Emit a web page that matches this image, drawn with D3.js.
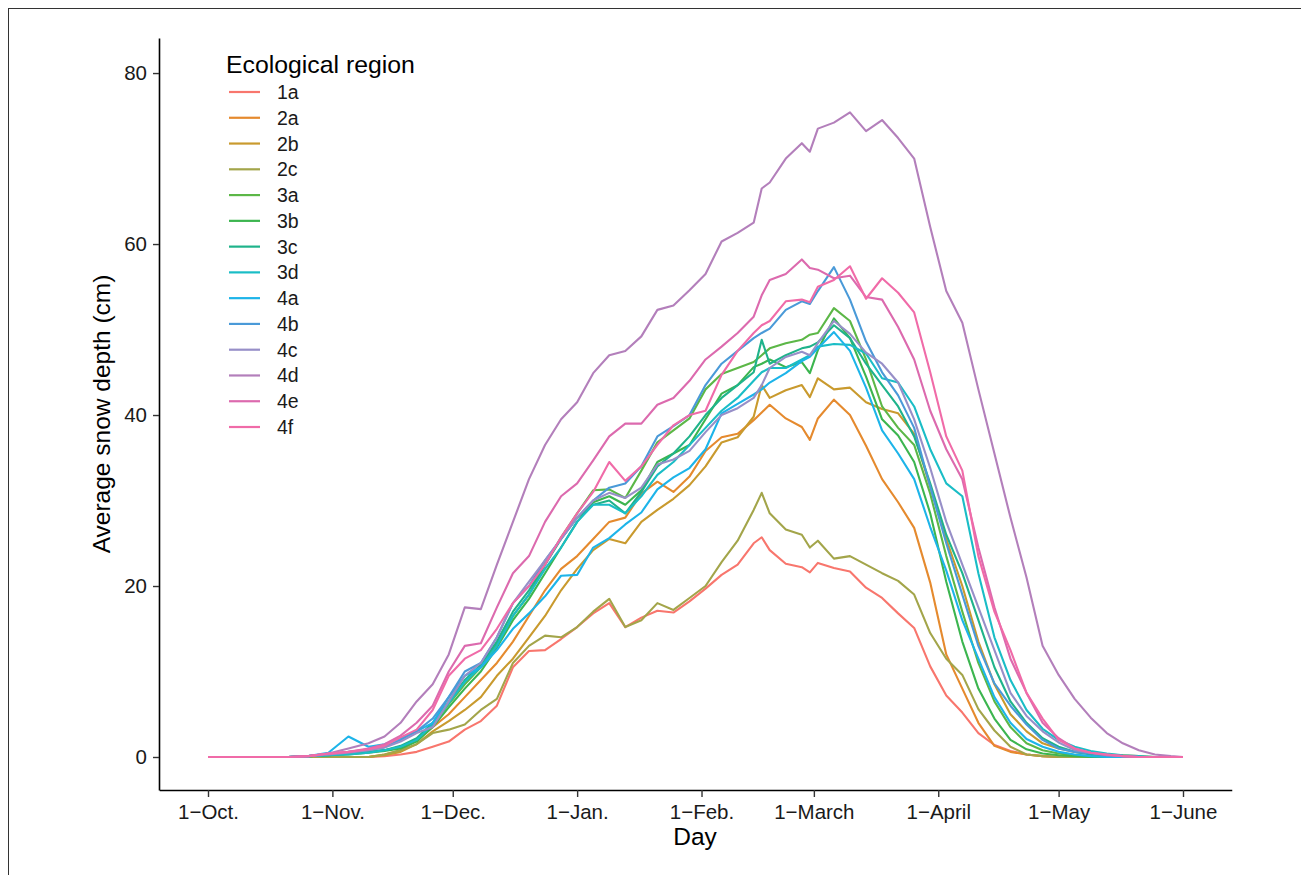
<!DOCTYPE html>
<html><head><meta charset="utf-8">
<script src="https://cdn.jsdelivr.net/npm/d3@7"></script>
<style>
body{margin:0;background:#fff}
svg{display:block}
text{font-family:"Liberation Sans",Arial,Helvetica,sans-serif}
</style>
</head><body><svg id="c" width="1301" height="875"></svg>
<script>
// ---- data (days since 1 October) ----
const days = [0,10,20,25,30,35,40,44,48,52, 56,60,64,68,72,76,80,84,88,92, 96,100,104,108,112,116,120,124,128,132, 136,138,140,144,148,150,152,156,160,164, 168,172,176,180,184,188,192,196,200,204, 208,212,216,220,224,228,232,236,240,243];

const regions = ["1a","2a","2b","2c","3a","3b","3c","3d","4a","4b","4c","4d","4e","4f"];
const colors = ["#F8766D","#E58A2E","#C99A2E","#A3A54A","#5CB747","#3CB54F","#1FB38B","#1ABDC6","#1DB4E9","#4A9AD8","#978FC8","#B37FBB","#DC6AAE","#F06BA8"];

const d1a = [0,0,0,0,0,0,0,0.1,0.3,0.6, 1.2,1.8,3.2,4.2,6,10.5,12.4,12.5,13.8,15.2, 16.8,18,15.2,16.3,17.1,16.9,18.2,19.7,21.3,22.5, 25,25.7,24.2,22.6,22.2,21.6,22.7,22.1,21.7,19.8, 18.6,16.8,15.1,10.6,7.2,5.2,2.8,1.4,0.7,0.3, 0.1,0,0,0,0,0,0,0,0,0];
const d2a = [0,0,0,0,0,0,0,0.3,0.8,2, 3.5,5,7,9,11,13.5,16.5,19.5,22,23.5, 25.5,27.5,28,30.8,32.2,31,32.8,35.8,37.4,37.8, 39.4,40.3,41.2,39.6,38.6,37.1,39.6,41.8,40,36.4, 32.5,29.8,26.8,20.4,12,8,4,1.3,0.6,0.3, 0.1,0,0,0,0,0,0,0,0,0];
const d2b = [0,0,0,0,0,0,0,0.2,0.6,1.5, 3,4.2,5.5,7,9.5,11.5,14,16.5,19.5,22, 24.2,25.5,25,27.5,28.9,30.2,31.8,34,36.8,37.4, 39.8,43.5,42,42.9,43.5,42.1,44.3,43,43.2,41.5, 40.7,40.2,37.8,31.6,25.5,20,13.5,8.5,5,3, 1.6,1,0.6,0.4,0.3,0.2,0.1,0,0,0];
const d2c = [0,0,0,0,0,0,0,0.3,0.8,1.5, 2.8,3.2,3.8,5.5,6.8,11,13,14.2,14,15.2, 17,18.5,15.2,16,18,17.2,18.6,20,22.8,25.3, 28.9,30.9,28.5,26.6,26,24.5,25.3,23.2,23.5,22.5, 21.5,20.6,19,14.5,11.5,9.6,5.6,3.1,1.2,0.3, 0.1,0,0,0,0,0,0,0,0,0];
const d3a = [0,0,0,0.1,0.2,0.4,0.6,0.8,1.2,2, 3.8,6.2,8.5,10.5,13.2,16.5,19,22.5,25.7,28.5, 31.2,31.3,30.3,33.5,36.8,38.2,39.6,43,44.8,45.5, 46.2,47,47.8,48.4,48.8,49.4,49.6,52.5,51,46.5, 41,38.5,36.5,30.8,23.5,17,11,6.5,3.5,1.6, 0.8,0.4,0.2,0.1,0,0,0,0,0,0];
const d3b = [0,0,0,0.1,0.2,0.3,0.5,0.7,1,1.8, 3.5,5.8,8,10,12.8,16,18.5,21.5,24.5,27.5, 29.8,30.5,29.5,31.2,34.5,35.5,36.5,39.5,42.5,43.5, 45.6,46,46.5,45.6,46.2,44.9,47.6,51.3,49,44.5, 39.5,37.6,34.5,28.5,20.5,13.5,8,4.5,2,0.9, 0.4,0.2,0.1,0,0,0,0,0,0,0];
const d3c = [0,0,0,0.1,0.2,0.4,0.6,0.8,1.3,2.2, 4,6.5,9,10.8,13.5,17,19.5,22.5,25.5,28, 29.5,30,28.5,31,34,35.5,37.5,40,42,43.5, 45,48.8,46,47,47.8,48,48.5,50.5,49,46, 43.5,41,37.5,32,26,21.5,16,10.5,6.5,4, 2.2,1.2,0.6,0.3,0.2,0.1,0,0,0,0];
const d3d = [0,0,0,0.1,0.2,0.3,0.5,0.8,1.2,2, 3.8,6.3,8.8,10.5,13,16.5,19,22,24.5,27.5, 29.5,29.5,28.5,30.5,33,34.5,36.5,38.5,40.5,42, 44,45,45.5,45.5,46.5,47,48,48.3,48.2,47.2, 44.3,43.8,41,36,32,30.5,21.5,14,9,5.5, 3.3,2,1.2,0.7,0.4,0.2,0.1,0,0,0];
const d4a = [0,0,0,0.1,0.5,2.4,1.2,1.5,2.2,3, 4,7,9.5,10.5,12.5,15,16.8,18.8,21.2,21.3, 24.5,25.6,27.2,28.6,31.3,32.7,33.8,36,40.2,41.3, 42.4,43,43.8,44.9,46.3,46.8,47.8,49.7,47.5,43.2, 38.2,35.5,32.5,26.9,21.8,16,11.5,7,4,2.1, 1.2,0.6,0.3,0.1,0,0,0,0,0,0];
const d4b = [0,0,0,0.1,0.3,0.6,0.8,1.2,2,3, 4.5,7,10,11,14,18,20,23,25.5,28, 30,31.5,32,34,37.5,38.7,40,43.5,46,47.5, 49,49.6,50.1,52.3,53.3,53,54.5,57.3,53.5,48.6, 45,42.3,38.5,31.6,25,19,13,8.6,6,3.8, 2,1,0.6,0.4,0.2,0.1,0,0,0,0];
const d4c = [0,0,0,0.1,0.3,0.5,0.8,1.1,1.8,2.8, 3.5,6.5,9.5,11,14,18,20.5,23,25.5,28, 30,30.9,30.3,31.5,34.2,34.8,35.8,38,40,40.8, 42,43.5,45.5,46.8,47.4,47,48.4,51,49.5,47.3, 46,43.8,39.5,33.8,27.5,22.5,17.5,12.5,7.5,4.8, 3,1.7,0.8,0.5,0.3,0.1,0,0,0,0];
const d4d = [0,0,0,0.1,0.4,1,1.6,2.4,4,6.5, 8.5,12,17.5,17.3,22.5,27.5,32.5,36.5,39.5,41.5, 44.9,47,47.5,49.2,52.3,52.8,54.6,56.5,60.3,61.3, 62.5,66.5,67.2,70,71.8,70.8,73.5,74.2,75.4,73.2, 74.5,72.4,70,62,54.5,50.8,43,35.5,28,21, 13,9.6,6.8,4.6,2.8,1.6,0.8,0.3,0.1,0];
const d4e = [0,0,0,0.1,0.4,0.6,1,1.5,2.5,4, 6,10,13,13.3,17.5,21.5,23.5,27.5,30.5,32, 34.7,37.5,39,39,41.2,42,44,46.5,48,49.6, 51.5,54,55.8,56.5,58.2,57.2,57,56,56.3,53.8, 53.5,50.3,46.5,40.5,36,32.5,24.5,17.5,11.5,7.5, 4,2.2,1,0.5,0.2,0.1,0,0,0,0];
const d4f = [0,0,0,0.1,0.4,0.6,0.9,1.3,2.3,3.2, 5.5,9.5,11.5,12.5,15,18,20,22.5,25.7,28.5, 31,34.5,32.3,34,36.5,38.8,40,40.5,44.7,47.5, 49.6,50.5,51,53.3,53.5,53.2,55,55.8,57.4,53.6, 56,54.3,52,45,37.5,33.5,23.5,17,12.5,7.5, 4.5,2,1,0.5,0.3,0.1,0,0,0,0];

const tickDays = [0,31,61,92,123,151,182,212,243];
const tickLabels = ["1\u2212Oct.","1\u2212Nov.","1\u2212Dec.","1\u2212Jan.","1\u2212Feb.","1\u2212March","1\u2212April","1\u2212May","1\u2212June"];
const yTicks = [0,20,40,60,80];

const seriesValues = [d1a,d2a,d2b,d2c,d3a,d3b,d3c,d3d,d4a,d4b,d4c,d4d,d4e,d4f];
const series = regions.map((r,i)=>({name:r,color:colors[i],values:seriesValues[i]}));

// ---- chart ----
const svg = d3.select('#c');
const x = d3.scaleLinear().domain([-12.15,255.15]).range([159.25,1231.75]);
const y = d3.scaleLinear().domain([-3.86,84.1]).range([790,38]);

svg.append('rect').attr('x',8.5).attr('y',8.5).attr('width',1300).attr('height',880)
  .attr('fill','none').attr('stroke','#333').attr('stroke-width',1);

const line = d3.line().x((d,i)=>x(days[i])).y(d=>y(d));
const g = svg.append('g');
series.forEach(s=>{
  g.append('path').attr('d',line(s.values)).attr('fill','none')
   .attr('stroke',s.color).attr('stroke-width',2.1).attr('stroke-linejoin','round');
});

const xAxis = svg.append('g').attr('transform','translate(0,790)')
  .call(d3.axisBottom(x).tickValues(tickDays).tickFormat((d,i)=>tickLabels[i]).tickSizeInner(7).tickSizeOuter(0).tickPadding(7));
const yAxis = svg.append('g').attr('transform','translate(159,0)')
  .call(d3.axisLeft(y).tickValues(yTicks).tickSizeInner(6).tickSizeOuter(0).tickPadding(6));
[xAxis,yAxis].forEach(a=>{
  a.select('.domain').attr('stroke','#000').attr('stroke-width',1.6);
  a.selectAll('.tick line').attr('stroke','#333').attr('stroke-width',1.4);
  a.selectAll('.tick text').attr('font-size','20.5px').attr('fill','#1a1a1a')
   .attr('font-family','"Liberation Sans",Arial,sans-serif');
});

svg.append('text').attr('x',695).attr('y',845).attr('text-anchor','middle')
  .attr('font-size','24.5px').attr('fill','#000').text('Day');
svg.append('text').attr('transform','translate(110,414) rotate(-90)').attr('text-anchor','middle')
  .attr('font-size','24.5px').attr('fill','#000').text('Average snow depth (cm)');

// legend
const leg = svg.append('g');
leg.append('text').attr('x',226).attr('y',73).attr('font-size','24.8px').attr('fill','#000').text('Ecological region');
series.forEach((s,i)=>{
  const yy = 92 + 25.77*i;
  leg.append('line').attr('x1',229).attr('x2',260).attr('y1',yy).attr('y2',yy)
    .attr('stroke',s.color).attr('stroke-width',2.2);
  leg.append('text').attr('x',277).attr('y',yy).attr('dy','0.36em')
    .attr('font-size','19.5px').attr('fill','#1a1a1a').text(s.name);
});
</script>
</body></html>
